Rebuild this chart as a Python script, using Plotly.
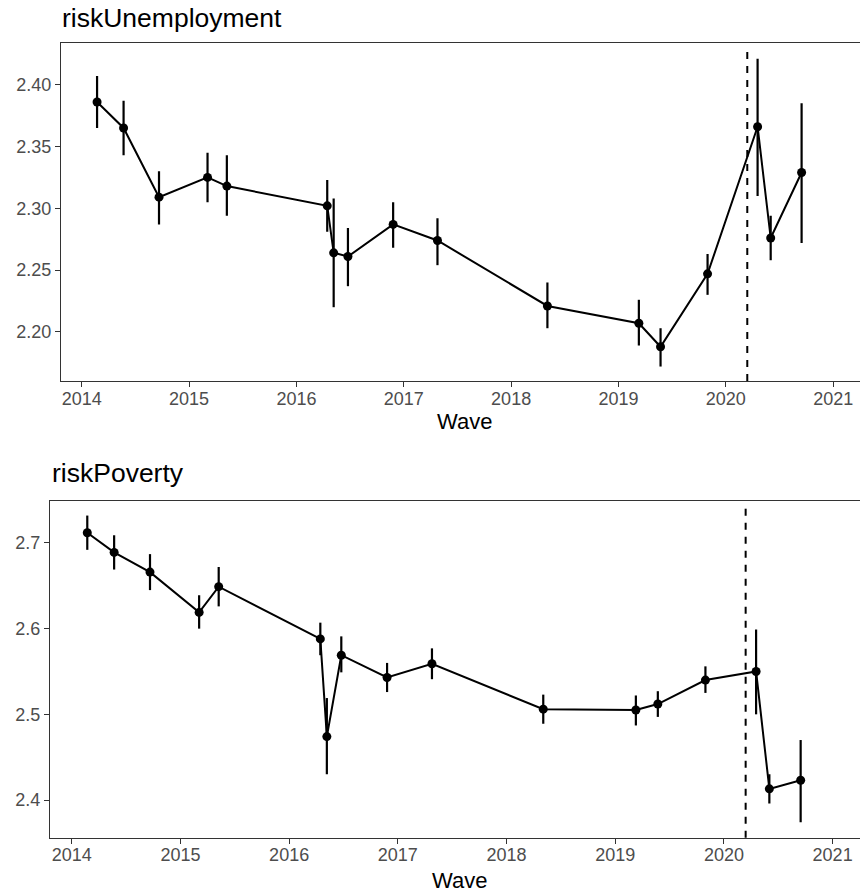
import plotly.graph_objects as go

# ---- data ----
wave = [2014.143, 2014.390, 2014.720, 2015.172, 2015.352, 2016.287, 2016.347, 2016.480,
        2016.901, 2017.314, 2018.338, 2019.190, 2019.392, 2019.830, 2020.296, 2020.418, 2020.706]

unemp_mean = [2.386, 2.365, 2.309, 2.325, 2.318, 2.302, 2.264, 2.261, 2.287, 2.274,
              2.221, 2.207, 2.188, 2.247, 2.366, 2.276, 2.329]
unemp_low = [2.365, 2.343, 2.287, 2.305, 2.294, 2.281, 2.220, 2.237, 2.268, 2.254,
             2.203, 2.189, 2.172, 2.230, 2.310, 2.258, 2.272]
unemp_high = [2.407, 2.387, 2.330, 2.345, 2.343, 2.323, 2.308, 2.284, 2.305, 2.292,
              2.240, 2.226, 2.203, 2.263, 2.421, 2.294, 2.385]

pov_mean = [2.712, 2.689, 2.666, 2.619, 2.649, 2.588, 2.474, 2.569, 2.543, 2.559,
            2.506, 2.505, 2.512, 2.540, 2.550, 2.413, 2.423]
pov_low = [2.692, 2.669, 2.645, 2.600, 2.626, 2.569, 2.430, 2.549, 2.526, 2.541,
           2.489, 2.487, 2.497, 2.525, 2.500, 2.396, 2.374]
pov_high = [2.732, 2.709, 2.687, 2.639, 2.672, 2.607, 2.519, 2.591, 2.560, 2.577,
            2.523, 2.522, 2.527, 2.556, 2.599, 2.430, 2.470]

covid_line = 2020.2
year_ticks = [2014, 2015, 2016, 2017, 2018, 2019, 2020, 2021]
unemp_ticks = [2.20, 2.25, 2.30, 2.35, 2.40]
pov_ticks = [2.4, 2.5, 2.6, 2.7]

panel_titles = ["riskUnemployment", "riskPoverty"]
x_title = "Wave"

# ---- layout helpers ----
W, H = 860, 893
FONT = "Liberation Sans, Arial, Helvetica, sans-serif"
AX = "#333333"
TICKC = "#4D4D4D"

def px_x(p):
    return p / W

def px_y(p):
    return 1 - p / H

fig = go.Figure()

def add_panel(mean, low, high, xa, ya):
    fig.add_trace(go.Scatter(
        x=wave, y=mean, mode="lines+markers",
        line=dict(color="black", width=2),
        marker=dict(color="black", size=9),
        error_y=dict(type="data", symmetric=False,
                     array=[h - m for h, m in zip(high, mean)],
                     arrayminus=[m - l for m, l in zip(mean, low)],
                     color="black", thickness=2.2, width=0),
        xaxis=xa, yaxis=ya, showlegend=False, hoverinfo="x+y"))

add_panel(unemp_mean, unemp_low, unemp_high, "x", "y")
add_panel(pov_mean, pov_low, pov_high, "x2", "y2")

xcommon = dict(showgrid=False, zeroline=False, showline=True, linecolor=AX, linewidth=1.2,
               mirror=True, ticks="outside", ticklen=5, tickwidth=1.2, tickcolor=AX,
               ticklabelstandoff=-4,
               tickfont=dict(family=FONT, size=18, color=TICKC),
               tickvals=year_ticks, ticktext=[str(t) for t in year_ticks])
ycommon = dict(showgrid=False, zeroline=False, showline=True, linecolor=AX, linewidth=1.2,
               mirror=False, ticks="outside", ticklen=5, tickwidth=1.2, tickcolor=AX,
               tickfont=dict(family=FONT, size=18, color=TICKC))

fig.update_layout(
    width=W, height=H,
    margin=dict(l=0, r=0, t=0, b=0),
    paper_bgcolor="white", plot_bgcolor="white",
    xaxis=dict(**xcommon, domain=[px_x(61), 1.0], range=[2013.807, 2021.25], anchor="y"),
    yaxis=dict(**ycommon, domain=[px_y(381), px_y(43.3)], range=[2.1603, 2.4335],
               tickvals=unemp_ticks, ticktext=[f"{t:.2f}" for t in unemp_ticks], anchor="x"),
    xaxis2=dict(**xcommon, domain=[px_x(50), 1.0], range=[2013.80, 2021.252], anchor="y2"),
    yaxis2=dict(**ycommon, domain=[px_y(837.7), px_y(501)], range=[2.356, 2.749],
                tickvals=pov_ticks, ticktext=[f"{t:.1f}" for t in pov_ticks], anchor="x2"),
    shapes=[
        dict(type="line", xref="x", yref="y domain", x0=covid_line, x1=covid_line, y0=0, y1=0.985,
             line=dict(color="black", width=2, dash="7px,7px")),
        dict(type="line", xref="x2", yref="y2 domain", x0=covid_line, x1=covid_line, y0=0, y1=0.985,
             line=dict(color="black", width=2, dash="7px,7px")),
    ],
    annotations=[
        dict(text=panel_titles[0], xref="paper", yref="paper", x=px_x(60), y=px_y(17.7),
             xanchor="left", yanchor="middle", showarrow=False,
             font=dict(family=FONT, size=26.5, color="black")),
        dict(text=panel_titles[1], xref="paper", yref="paper", x=px_x(49.5), y=px_y(473.3),
             xanchor="left", yanchor="middle", showarrow=False,
             font=dict(family=FONT, size=26.5, color="black")),
        dict(text=x_title, xref="paper", yref="paper", x=px_x(464), y=px_y(421.5),
             xanchor="center", yanchor="middle", showarrow=False,
             font=dict(family=FONT, size=22, color="black")),
        dict(text=x_title, xref="paper", yref="paper", x=px_x(459.5), y=px_y(880.5),
             xanchor="center", yanchor="middle", showarrow=False,
             font=dict(family=FONT, size=22, color="black")),
    ],
)

fig.write_html("out.html")
